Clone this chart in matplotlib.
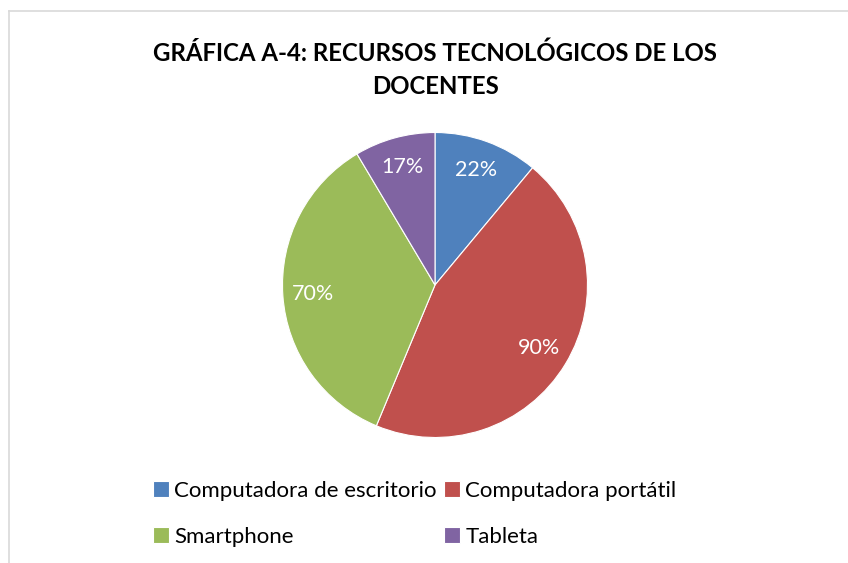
import matplotlib.pyplot as plt
from matplotlib.lines import Line2D

categorias = ['Computadora de escritorio', 'Computadora portátil', 'Smartphone', 'Tableta']
valores = [22, 90, 70, 17]
colores = ['#4F81BD', '#C0504D', '#9BBB59', '#8064A2']
titulo = 'GRÁFICA A-4: RECURSOS TECNOLÓGICOS DE LOS\nDOCENTES'

plt.rcParams['font.family'] = ['Lato', 'DejaVu Sans']

W, H = 848, 563
fig = plt.figure(figsize=(W / 100, H / 100), dpi=100)

# chart border (only top and left visible)
fig.add_artist(Line2D([9 / W, 1], [1 - 11 / H, 1 - 11 / H], color='#d9d9d9', lw=1.2))
fig.add_artist(Line2D([9 / W, 9 / W], [0, 1 - 11 / H], color='#d9d9d9', lw=1.2))

fig.text(435 / W, 1 - 70 / H, titulo, ha='center', va='center', fontsize=17.3,
         fontweight='bold', linespacing=1.55, color='black')

cx, cy, r = 435, 285, 152.5
ax = fig.add_axes([(cx - r) / W, (H - cy - r) / H, 2 * r / W, 2 * r / H])
wedges, textos = ax.pie(valores, colors=colores, startangle=90, counterclock=False,
                        labels=[f'{v}%' for v in valores], labeldistance=0.8,
                        wedgeprops=dict(edgecolor='white', linewidth=0.8),
                        textprops=dict(color='white', fontsize=15.5))
for t in textos:
    t.set_ha('center')
    t.set_va('center')
ax.set_xlim(-1, 1)
ax.set_ylim(-1, 1)

orden = [0, 2, 1, 3]
fig.legend([wedges[i] for i in orden], [categorias[i] for i in orden], ncol=2,
           loc='upper left', bbox_to_anchor=(153 / W, 1 - 481 / H), frameon=False,
           fontsize=16, handlelength=0.7, handleheight=0.7, handletextpad=0.25,
           columnspacing=0.35, labelspacing=1.15, borderaxespad=0, borderpad=0)

fig.savefig('out.png', dpi=100)
